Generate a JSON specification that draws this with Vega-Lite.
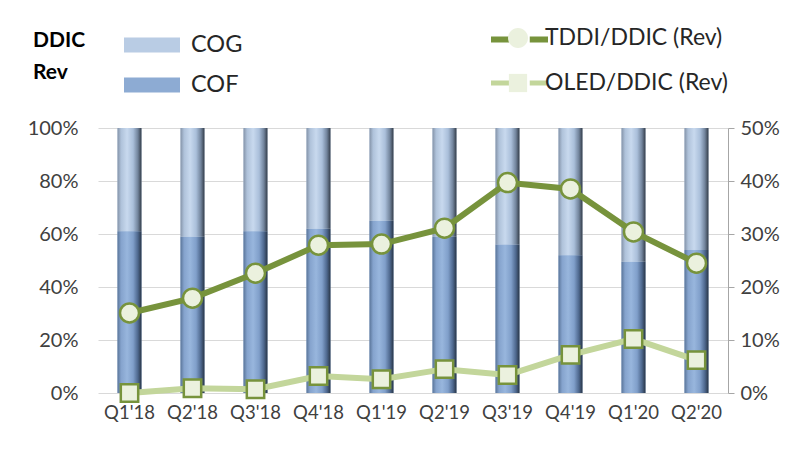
{
  "$schema": "https://vega.github.io/schema/vega-lite/v6.json",
  "width": 630,
  "height": 265,
  "autosize": "none",
  "padding": {"left": 98, "top": 128, "right": 68, "bottom": 59},
  "background": "white",
  "config": {
    "view": {"stroke": null},
    "font": "Lato",
    "axis": {"labelFont": "Lato", "labelFontSize": 20, "labelColor": "#404040", "titleFont": "Lato"},
    "legend": {"labelFont": "Lato", "labelColor": "#262626", "titleFont": "Lato", "labelLimit": 400}
  },
  "datasets": {
    "bars": [
      {"quarter": "Q1'18", "part": "COF", "share": 0.61},
      {"quarter": "Q1'18", "part": "COG", "share": 0.39},
      {"quarter": "Q2'18", "part": "COF", "share": 0.59},
      {"quarter": "Q2'18", "part": "COG", "share": 0.41},
      {"quarter": "Q3'18", "part": "COF", "share": 0.61},
      {"quarter": "Q3'18", "part": "COG", "share": 0.39},
      {"quarter": "Q4'18", "part": "COF", "share": 0.62},
      {"quarter": "Q4'18", "part": "COG", "share": 0.38},
      {"quarter": "Q1'19", "part": "COF", "share": 0.65},
      {"quarter": "Q1'19", "part": "COG", "share": 0.35},
      {"quarter": "Q2'19", "part": "COF", "share": 0.59},
      {"quarter": "Q2'19", "part": "COG", "share": 0.41},
      {"quarter": "Q3'19", "part": "COF", "share": 0.56},
      {"quarter": "Q3'19", "part": "COG", "share": 0.44},
      {"quarter": "Q4'19", "part": "COF", "share": 0.52},
      {"quarter": "Q4'19", "part": "COG", "share": 0.48},
      {"quarter": "Q1'20", "part": "COF", "share": 0.495},
      {"quarter": "Q1'20", "part": "COG", "share": 0.505},
      {"quarter": "Q2'20", "part": "COF", "share": 0.54},
      {"quarter": "Q2'20", "part": "COG", "share": 0.46}
    ],
    "lines": [
      {"quarter": "Q1'18", "series": "TDDI/DDIC (Rev)", "value": 0.151},
      {"quarter": "Q2'18", "series": "TDDI/DDIC (Rev)", "value": 0.179},
      {"quarter": "Q3'18", "series": "TDDI/DDIC (Rev)", "value": 0.226},
      {"quarter": "Q4'18", "series": "TDDI/DDIC (Rev)", "value": 0.279},
      {"quarter": "Q1'19", "series": "TDDI/DDIC (Rev)", "value": 0.281},
      {"quarter": "Q2'19", "series": "TDDI/DDIC (Rev)", "value": 0.311},
      {"quarter": "Q3'19", "series": "TDDI/DDIC (Rev)", "value": 0.397},
      {"quarter": "Q4'19", "series": "TDDI/DDIC (Rev)", "value": 0.385},
      {"quarter": "Q1'20", "series": "TDDI/DDIC (Rev)", "value": 0.304},
      {"quarter": "Q2'20", "series": "TDDI/DDIC (Rev)", "value": 0.245},
      {"quarter": "Q1'18", "series": "OLED/DDIC (Rev)", "value": 0.0},
      {"quarter": "Q2'18", "series": "OLED/DDIC (Rev)", "value": 0.009},
      {"quarter": "Q3'18", "series": "OLED/DDIC (Rev)", "value": 0.007},
      {"quarter": "Q4'18", "series": "OLED/DDIC (Rev)", "value": 0.032},
      {"quarter": "Q1'19", "series": "OLED/DDIC (Rev)", "value": 0.026},
      {"quarter": "Q2'19", "series": "OLED/DDIC (Rev)", "value": 0.045},
      {"quarter": "Q3'19", "series": "OLED/DDIC (Rev)", "value": 0.034},
      {"quarter": "Q4'19", "series": "OLED/DDIC (Rev)", "value": 0.072},
      {"quarter": "Q1'20", "series": "OLED/DDIC (Rev)", "value": 0.102},
      {"quarter": "Q2'20", "series": "OLED/DDIC (Rev)", "value": 0.062}
    ]
  },
  "encoding": {
    "x": {
      "field": "quarter",
      "type": "ordinal",
      "sort": null,
      "scale": {"paddingInner": 0.62, "paddingOuter": 0.31},
      "axis": {"title": null, "labelAngle": 0, "domain": false, "ticks": false, "labelPadding": 10, "grid": false, "labelFontSize": 18.5}
    }
  },
  "layer": [
    {
      "data": {"name": "bars"},
      "encoding": {
        "y": {
          "field": "share",
          "type": "quantitative",
          "stack": "zero",
          "scale": {"domain": [0, 1]},
          "axis": {"title": null, "format": "%", "values": [0, 0.2, 0.4, 0.6, 0.8, 1], "domain": false, "ticks": false, "labelPadding": 20, "gridColor": "#D9D9D9", "gridWidth": 1.2}
        },
        "order": {"field": "part", "sort": "ascending"}
      },
      "layer": [
        {
          "mark": {"type": "bar"},
          "encoding": {
            "fill": {
              "field": "part",
              "type": "nominal",
              "scale": {"domain": ["COG", "COF"], "range": ["#B9CCE4", "#8DABD3"]},
              "legend": {
                "title": ["DDIC", "Rev"],
                "titleOrient": "left",
                "titleAnchor": "middle",
                "titleFontSize": 21,
                "titleFontWeight": "bold",
                "titleColor": "#000000",
                "titlePadding": 38,
                "titleLineHeight": 32,
                "orient": "none",
                "legendX": -65,
                "legendY": -111,
                "symbolType": "M-1,-0.27H1V0.27H-1Z",
                "symbolSize": 3136,
                "symbolStrokeWidth": 0,
                "labelFontSize": 23.5,
                "labelOffset": 11,
                "rowPadding": -14,
                "encode": {
                  "symbols": {
                    "update": {
                      "fill": [
                        {"test": "datum.value === 'COG'", "value": {"gradient": "linear", "x1": 0, "y1": 0, "x2": 0, "y2": 1, "stops": [{"offset": 0, "color": "#E2ECF8"}, {"offset": 0.5, "color": "#B5C9E2"}, {"offset": 1, "color": "#6E7F96"}]}},
                        {"value": {"gradient": "linear", "x1": 0, "y1": 0, "x2": 0, "y2": 1, "stops": [{"offset": 0, "color": "#B7CDEA"}, {"offset": 0.5, "color": "#8AA8D0"}, {"offset": 1, "color": "#4D6688"}]}}
                      ]
                    }
                  }
                }
              }
            }
          }
        },
        {
          "mark": {"type": "bar"},
          "encoding": {
            "fill": {
              "condition": {
                "test": "datum.part === 'COG'",
                "value": {"gradient": "linear", "x1": 0, "y1": 0, "x2": 1, "y2": 0, "stops": [
                  {"offset": 0, "color": "#8493A8"},
                  {"offset": 0.15, "color": "#AFC2DA"},
                  {"offset": 0.4, "color": "#C8D9EE"},
                  {"offset": 0.65, "color": "#AABFDA"},
                  {"offset": 0.85, "color": "#72849C"},
                  {"offset": 1, "color": "#333C48"}
                ]}
              },
              "value": {"gradient": "linear", "x1": 0, "y1": 0, "x2": 1, "y2": 0, "stops": [
                {"offset": 0, "color": "#5A7599"},
                {"offset": 0.15, "color": "#85A3CD"},
                {"offset": 0.4, "color": "#98B6DD"},
                {"offset": 0.65, "color": "#809FCA"},
                {"offset": 0.85, "color": "#4E688E"},
                {"offset": 1, "color": "#283546"}
              ]}
            }
          }
        }
      ]
    },
    {
      "data": {"name": "lines"},
      "encoding": {
        "y": {
          "field": "value",
          "type": "quantitative",
          "scale": {"domain": [0, 0.5]},
          "axis": {"title": null, "orient": "right", "format": "%", "values": [0, 0.1, 0.2, 0.3, 0.4, 0.5], "grid": false, "domain": true, "domainColor": "#A6A6A6", "tickColor": "#A6A6A6", "tickSize": 6, "labelPadding": 6}
        }
      },
      "layer": [
        {
          "mark": {"type": "line", "strokeWidth": 6},
          "encoding": {
            "stroke": {
              "field": "series",
              "type": "nominal",
              "scale": {"domain": ["TDDI/DDIC (Rev)", "OLED/DDIC (Rev)"], "range": ["#77933C", "#C3D69B"]},
              "legend": {
                "title": null,
                "orient": "none",
                "legendX": 390,
                "legendY": -120,
                "symbolType": "M-1,0H-0.36M0.36,0H1",
                "symbolSize": 3249,
                "symbolStrokeWidth": 6,
                "labelExpr": "''",
                "labelFontSize": 23,
                "labelOffset": -3,
                "rowPadding": -6
              }
            },
            "strokeWidth": {
              "field": "series",
              "type": "nominal",
              "scale": {"domain": ["TDDI/DDIC (Rev)", "OLED/DDIC (Rev)"], "range": [6, 5]},
              "legend": null
            }
          }
        },
        {
          "mark": {"type": "point", "filled": true, "fill": "#EBF1DE", "stroke": "#77933C", "strokeWidth": 2.5, "opacity": 1, "size": 2950},
          "encoding": {
            "shape": {
              "field": "series",
              "type": "nominal",
              "scale": {"domain": ["OLED/DDIC (Rev)", "TDDI/DDIC (Rev)"], "range": ["M-0.32,-0.32H0.32V0.32H-0.32Z", "M-0.35,0A0.35,0.35 0 1 1 0.35,0A0.35,0.35 0 1 1 -0.35,0Z"]},
              "legend": {
                "title": null,
                "values": ["TDDI/DDIC (Rev)", "OLED/DDIC (Rev)"],
                "orient": "none",
                "legendX": 390,
                "legendY": -120,
                "symbolSize": 3249,
                "symbolFillColor": "#EBF1DE",
                "symbolStrokeColor": "#77933C",
                "symbolStrokeWidth": 2.5,
                "labelFontSize": 23,
                "labelOffset": -3,
                "rowPadding": -6
              }
            }
          }
        }
      ]
    }
  ],
  "resolve": {"scale": {"y": "independent"}}
}
